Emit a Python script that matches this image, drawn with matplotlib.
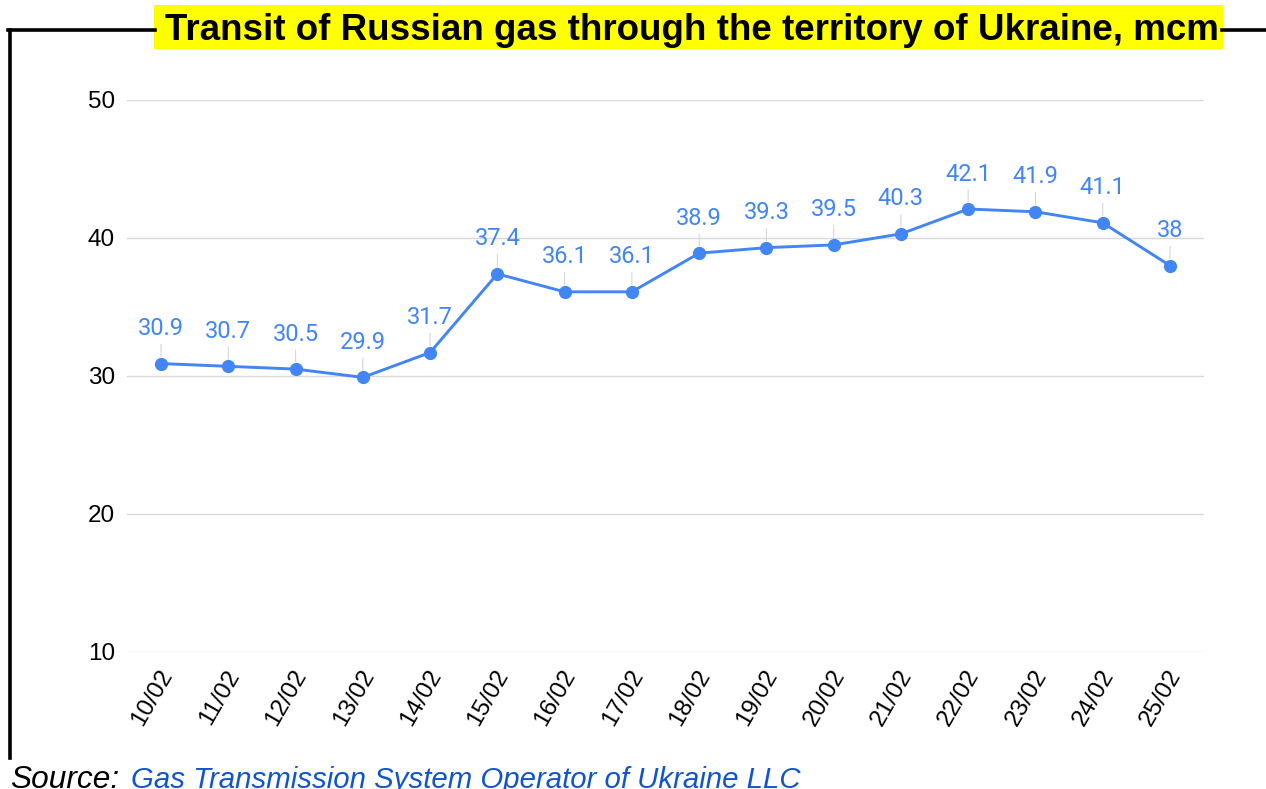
import matplotlib
matplotlib.use("Agg")
import matplotlib.pyplot as plt
from matplotlib.patches import Rectangle
from matplotlib.lines import Line2D

# data
dates = ["10/02", "11/02", "12/02", "13/02", "14/02", "15/02", "16/02", "17/02",
         "18/02", "19/02", "20/02", "21/02", "22/02", "23/02", "24/02", "25/02"]
transit = [30.9, 30.7, 30.5, 29.9, 31.7, 37.4, 36.1, 36.1,
           38.9, 39.3, 39.5, 40.3, 42.1, 41.9, 41.1, 38]
labels = ["30.9", "30.7", "30.5", "29.9", "31.7", "37.4", "36.1", "36.1",
          "38.9", "39.3", "39.5", "40.3", "42.1", "41.9", "41.1", "38"]
yticks = [10, 20, 30, 40, 50]

W, H = 1266, 789
blue = "#4285F4"

fig = plt.figure(figsize=(W / 100, H / 100), dpi=100)
ax = fig.add_axes([127.4 / W, 1 - 652 / H, (1203.6 - 127.4) / W, (652 - 100) / H])

x = list(range(len(dates)))
ax.plot(x, transit, color=blue, lw=2.1, marker="o", ms=8.5, zorder=3, clip_on=False)

for xi, yi, lab in zip(x, transit, labels):
    ax.annotate(lab, (xi, yi), xytext=(0, 20.5), textcoords="offset points",
                ha="center", va="baseline", color=blue, fontsize=17,
                family="Roboto", zorder=4,
                arrowprops=dict(arrowstyle="-", color="#d6d6d6", lw=0.8,
                                shrinkA=1, shrinkB=5))

ax.set_xlim(-0.5, len(dates) - 0.5)
ax.set_ylim(10, 50)
ax.set_yticks(yticks)
ax.set_xticks(x)
ax.set_xticklabels([])
# rotated date labels, nudged a little right of the tick like the original
for xi, d in zip(x, dates):
    ax.annotate(d, (xi, 0), xycoords=("data", "axes fraction"),
                xytext=(4.5, -14), textcoords="offset points",
                rotation=60, rotation_mode="anchor", ha="right", va="center",
                fontsize=17.5, family="Liberation Sans", color="black",
                annotation_clip=False)
ax.tick_params(axis="x", length=0)
ax.tick_params(axis="y", length=0, pad=9, labelsize=17.5)
for t in ax.get_yticklabels():
    t.set_family("Liberation Sans")
ax.grid(axis="y", color="#d9d9d9", lw=1.0)
ax.set_axisbelow(True)
for s in ax.spines.values():
    s.set_visible(False)

# black frame lines and title
fig.add_artist(Line2D([9.5 / W, 9.5 / W], [1 - 30 / H, 1 - 758 / H], color="black", lw=2.6))
fig.add_artist(Line2D([8 / W, 155 / W], [1 - 30 / H, 1 - 30 / H], color="black", lw=2.6))
fig.add_artist(Line2D([1222 / W, 1], [1 - 30 / H, 1 - 30 / H], color="black", lw=2.6))
fig.add_artist(Rectangle((154 / W, 1 - 49 / H), (1223 - 154) / W, 44 / H,
                         transform=fig.transFigure, facecolor="#ffff00", edgecolor="none"))
fig.text(691.5 / W, 1 - 40.5 / H, "Transit of Russian gas through the territory of Ukraine, mcm",
         ha="center", va="baseline", fontsize=26.5, fontweight="bold",
         family="Liberation Sans", color="black")

# source line (cut at the bottom edge as in the original)
fig.text(10 / W, 1 - 788 / H, "Source:", ha="left", va="baseline", fontsize=22.8,
         style="italic", family="Liberation Sans", color="black")
fig.text(131 / W, 1 - 788 / H, "Gas Transmission System Operator of Ukraine LLC",
         ha="left", va="baseline", fontsize=21.2, style="italic",
         family="Liberation Sans", color="#1155cc")

fig.savefig("out.png", dpi=100)
